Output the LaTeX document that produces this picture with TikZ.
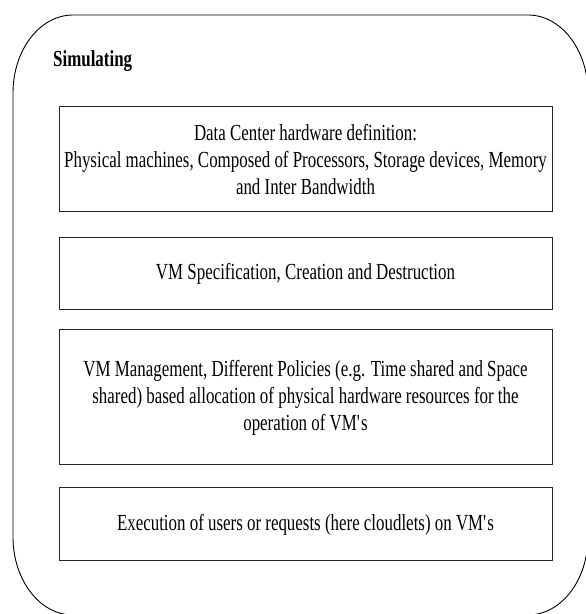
\documentclass[tikz,border=0pt]{standalone}
\usepackage{fontspec}
\setmainfont{Liberation Serif}[FakeStretch=0.735]
\begin{document}
\begin{tikzpicture}[x=1pt,y=1pt,
  layerbox/.style={draw=black!85, line width=1pt, minimum width=493pt,
    align=center, inner sep=0pt, font=\fontsize{23}{27}\selectfont},
  frame/.style={draw=black, line width=0.9pt}]
\useasboundingbox (0,0) rectangle (586,614);
\clip (0,0) rectangle (586,614);
% outer frame with elliptical corners
\draw[frame] (13,521) arc[start angle=180, end angle=90, x radius=60, y radius=78]
  -- (528,599) arc[start angle=90, end angle=0, x radius=60, y radius=78]
  -- (588,77) arc[start angle=0, end angle=-90, x radius=60, y radius=78]
  -- (73,-1) arc[start angle=270, end angle=180, x radius=60, y radius=78]
  -- cycle;
\node[anchor=base west, inner sep=0pt, font=\fontsize{23}{27}\selectfont\bfseries]
  (title) at (53,547) {Simulating};
% stacked layers
\node[layerbox, minimum height=105pt] (hw) at (305.5,454.5)
  {Data Center hardware definition:\\Physical machines, Composed of Processors, Storage devices, Memory\\and Inter Bandwidth};
\node[layerbox, minimum height=72pt] (vmspec) at (305.5,340)
  {VM Specification, Creation and Destruction};
\node[layerbox, minimum height=135pt] (vmmgmt) at (305.5,216.5)
  {VM Management, Different Policies (e.g. Time shared and Space\\shared) based allocation of physical hardware resources for the\\operation of VM\textquotesingle s};
\node[layerbox, minimum height=73pt] (exec) at (305.5,89.5)
  {Execution of users or requests (here cloudlets) on VM\textquotesingle s};
\end{tikzpicture}
\end{document}
